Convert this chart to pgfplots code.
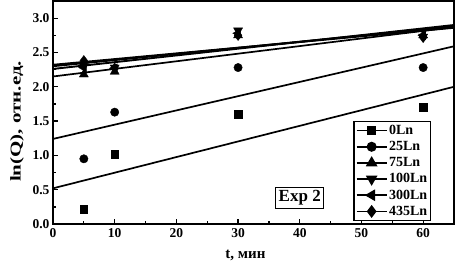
\documentclass[border=0pt]{standalone}
\usepackage{pgfplots}
\pgfplotsset{compat=1.18}
\usepackage{fontspec}
\setmainfont{Liberation Serif}
\usepackage{graphicx}
\begin{document}
\begin{tikzpicture}
\path[use as bounding box] (-53pt,-45pt) rectangle (402pt,224pt);
\begin{axis}[
  at={(0pt,0pt)}, anchor=south west,
  scale only axis, width=401pt, height=223pt,
  xmin=0, xmax=65, ymin=0, ymax=3.25,
  axis line style={line width=2.2pt},
  xtick={0,10,...,60}, minor xtick={5,15,...,65},
  ytick={0,0.5,...,3.0}, minor ytick={0.25,0.75,...,3.25},
  tick pos=left, tick align=inside,
  major tick length=5pt, minor tick length=3pt,
  every tick/.style={line width=1.3pt, black},
  /pgf/number format/assume math mode=true,
  tick label style={font=\bfseries\fontsize{13.5}{13.5}\selectfont},
  yticklabel style={/pgf/number format/.cd, fixed, fixed zerofill, precision=1},
  xticklabel style={yshift=-1pt},
  xlabel={t, мин},
  xlabel style={font=\bfseries\fontsize{15}{15}\selectfont, at={(ticklabel cs:0.48)}, anchor=north, yshift=-6pt},
  ylabel={\scalebox{1.4}[1]{ln(Q), отн.ед.}},
  ylabel style={font=\bfseries\fontsize{15}{15}\selectfont, at={(ticklabel cs:0.46)}, anchor=south, yshift=2pt},
  legend style={at={(0.748,0.013)}, anchor=south west, draw=black, line width=1.6pt,
    font=\bfseries\fontsize{14}{14}\selectfont, inner sep=2pt, row sep=2.4pt,
    nodes={inner sep=1.5pt}},
  legend cell align=left,
  legend image code/.code={\draw[line width=1.8pt] (0pt,0pt) -- (30pt,0pt); \draw[#1] plot coordinates {(15pt,0pt)};},
  every axis plot/.append style={black},
]
% data points
\addplot[only marks, mark=square*, mark size=3.8pt] coordinates {(5,0.22) (10,1.02) (30,1.60) (60,1.70)};
\addlegendentry{0Ln}
\addplot[only marks, mark=*, mark size=4.2pt] coordinates {(5,0.95) (10,1.63) (30,2.28) (60,2.28)};
\addlegendentry{25Ln}
\addplot[only marks, mark=triangle*, mark size=5.2pt] coordinates {(5,2.18) (10,2.22) (30,2.75) (60,2.75)};
\addlegendentry{75Ln}
\addplot[only marks, mark=triangle*, mark size=5.2pt, mark options={rotate=180}] coordinates {(5,2.30) (10,2.28) (30,2.82) (60,2.73)};
\addlegendentry{100Ln}
\addplot[only marks, mark=triangle*, mark size=5.2pt, mark options={rotate=90}] coordinates {(5,2.28) (10,2.27) (30,2.78) (60,2.75)};
\addlegendentry{300Ln}
\addplot[only marks, mark=diamond*, mark size=5.2pt] coordinates {(5,2.38) (10,2.27) (30,2.75) (60,2.72)};
\addlegendentry{435Ln}
% fit lines
\addplot[forget plot, line width=1.7pt, no marks] coordinates {(0,0.52) (65,2.00)};
\addplot[forget plot, line width=1.7pt, no marks] coordinates {(0,1.24) (65,2.59)};
\addplot[forget plot, line width=1.7pt, no marks] coordinates {(0,2.15) (65,2.87)};
\addplot[forget plot, line width=1.9pt, no marks] coordinates {(0,2.30) (65,2.88)};
\addplot[forget plot, line width=1.9pt, no marks] coordinates {(0,2.26) (65,2.90)};
\addplot[forget plot, line width=1.9pt, no marks] coordinates {(0,2.32) (65,2.86)};
\node[draw, line width=1pt, font=\bfseries\fontsize{17}{17}\selectfont, inner sep=3pt] at (axis cs:40,0.38) {Exp 2};
\end{axis}
\end{tikzpicture}
\end{document}
